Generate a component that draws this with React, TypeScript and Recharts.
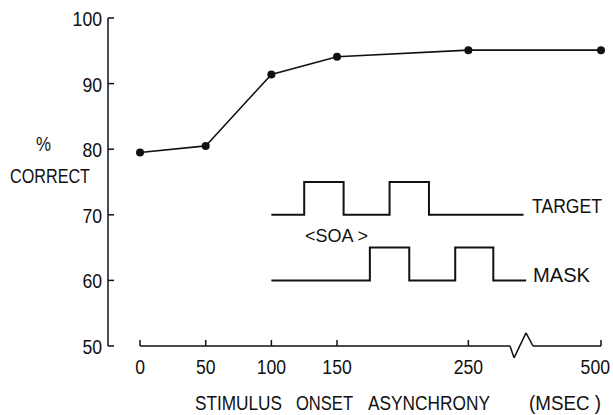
import { ComposedChart, Line, XAxis, YAxis, ReferenceLine, Customized } from "recharts"

// stimulus onset asynchrony (msec); 500 sits past the axis break
const soaLabels = ["0", "50", "100", "150", "250", "500"]
const soaAxisPos = [0, 50, 100, 150, 250, 351]
const percentCorrect = [79.5, 80.5, 91.4, 94.1, 95.1, 95.1]

const yTicks = [50, 60, 70, 80, 90, 100]

// timing inset, drawn in the chart's own units
const targetTimes = [100, 125, 155, 190, 220, 292]
const targetLevels = [70, 75, 70, 75, 70, 70]
const maskTimes = [100, 175, 205, 240, 269, 294]
const maskLevels = [60, 65, 60, 65, 60, 60]

// x axis with its zig-zag break between 250 and 500
const axisBreakX = [0, 281.7, 284.8, 293.9, 299.2, 351]
const axisBreakY = [50, 50, 48.2, 52, 50, 50]

const FONT = "'Liberation Sans', Arial, Helvetica, sans-serif"
const INK = "#111"
const DIGIT_W = 9.8

const mainRows = soaAxisPos.map((x, i) => ({ x, y: percentCorrect[i] }))
const targetRows = targetTimes.map((x, i) => ({ x, y: targetLevels[i] }))
const maskRows = maskTimes.map((x, i) => ({ x, y: maskLevels[i] }))

function XTick({ x, y, payload }: any) {
  const label = soaLabels[soaAxisPos.indexOf(payload.value)]
  const w = label.length * DIGIT_W
  return (
    <g>
      <line x1={x} x2={x} y1={y} y2={y - 6} stroke={INK} strokeWidth={1.5} />
      <text
        x={Math.min(x - w / 2, 610 - w)}
        y={y + 28}
        textLength={w}
        lengthAdjust="spacingAndGlyphs"
        fontFamily={FONT}
        fontSize={20}
        fill={INK}
      >
        {label}
      </text>
    </g>
  )
}

function YTick({ x, y, payload }: any) {
  const label = String(payload.value)
  return (
    <g>
      <line x1={x} x2={x + 6} y1={y} y2={y} stroke={INK} strokeWidth={1.5} />
      <text
        x={x - 6 - label.length * DIGIT_W}
        y={y + 8}
        textLength={label.length * DIGIT_W}
        lengthAdjust="spacingAndGlyphs"
        fontFamily={FONT}
        fontSize={20}
        fill={INK}
      >
        {label}
      </text>
    </g>
  )
}

function Annotations() {
  const t = { fontFamily: FONT, fontSize: 20, fill: INK, lengthAdjust: "spacingAndGlyphs" as const }
  return (
    <g>
      <text x={36} y={151} textLength={15} {...t}>%</text>
      <text x={10} y={183} textLength={80} {...t}>CORRECT</text>
      <text x={305} y={242} textLength={63} {...t} fontSize={18}>{"<SOA >"}</text>
      <text x={532} y={213} textLength={70} {...t}>TARGET</text>
      <text x={533} y={282} textLength={57} {...t}>MASK</text>
      <text x={195} y={410} textLength={87} {...t}>STIMULUS</text>
      <text x={296} y={410} textLength={57} {...t}>ONSET</text>
      <text x={368} y={410} textLength={122} {...t}>ASYNCHRONY</text>
      <text x={529} y={410} textLength={72} {...t}>(MSEC )</text>
    </g>
  )
}

export default function App() {
  return (
    <div style={{ position: "absolute", left: 0, top: 0, background: "#fff" }}>
      <ComposedChart width={613} height={415} margin={{ top: 18, right: 12, left: 0, bottom: 0 }}>
        <XAxis
          type="number"
          dataKey="x"
          domain={[-24.4, 351]}
          ticks={soaAxisPos}
          interval={0}
          axisLine={false}
          tickLine={false}
          tickSize={0}
          tickMargin={0}
          height={69}
          tick={<XTick />}
        />
        <YAxis
          type="number"
          domain={[50, 100]}
          ticks={yTicks}
          interval={0}
          width={108}
          axisLine={{ stroke: INK, strokeWidth: 1.5 }}
          tickLine={false}
          tickSize={0}
          tickMargin={0}
          tick={<YTick />}
        />
        {axisBreakX.slice(1).map((x, i) => (
          <ReferenceLine
            key={i}
            segment={[
              { x: axisBreakX[i], y: axisBreakY[i] },
              { x, y: axisBreakY[i + 1] },
            ]}
            ifOverflow="visible"
            stroke={INK}
            strokeWidth={1.5}
          />
        ))}
        <Line
          data={targetRows}
          dataKey="y"
          type="stepAfter"
          stroke={INK}
          strokeWidth={2}
          dot={false}
          isAnimationActive={false}
        />
        <Line
          data={maskRows}
          dataKey="y"
          type="stepAfter"
          stroke={INK}
          strokeWidth={2}
          dot={false}
          isAnimationActive={false}
        />
        <Line
          data={mainRows}
          dataKey="y"
          type="linear"
          stroke={INK}
          strokeWidth={1.6}
          dot={{ r: 4, fill: INK, stroke: INK, strokeWidth: 0 }}
          isAnimationActive={false}
        />
        <Customized component={Annotations} />
      </ComposedChart>
    </div>
  )
}
